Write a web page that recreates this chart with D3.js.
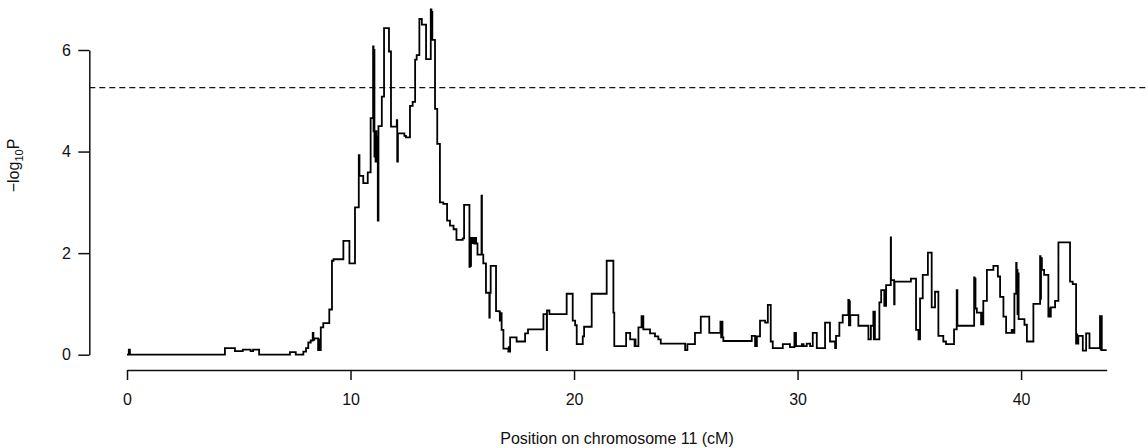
<!DOCTYPE html>
<html>
<head>
<meta charset="utf-8">
<script src="https://cdn.jsdelivr.net/npm/d3@7"></script>
<style>
  html, body { margin: 0; padding: 0; background: #fff; }
  svg { display: block; }
  text { font-family: "Liberation Sans", Arial, sans-serif; fill: #111; }
</style>
</head>
<body>
<svg id="chart" width="1148" height="448"></svg>
<script>
// Position on chromosome 11 (cM) and -log10 P (step function)
const positions = [
  0, 0.08, 0.13, 4.38, 4.83, 5.18, 5.53, 5.64, 5.91, 7.29, 7.55, 7.89, 8.01, 8.11, 8.22, 8.31, 8.34, 8.38,
  8.55, 8.58, 8.61, 8.67, 8.78, 9.05, 9.17, 9.24, 9.68, 9.95, 10.20, 10.37, 10.40, 10.57, 10.77, 10.90,
  11.01, 11.03, 11.05, 11.07, 11.10, 11.12, 11.14, 11.16, 11.19, 11.22, 11.25, 11.40, 11.50, 11.72, 11.81,
  12.07, 12.09, 12.12, 12.41, 12.48, 12.66, 12.78, 12.89, 12.96, 13.08, 13.19, 13.38, 13.59, 13.62, 13.64,
  13.66, 13.78, 13.88, 14.00, 14.15, 14.32, 14.45, 14.61, 14.74, 15.02, 15.08, 15.32, 15.34, 15.37, 15.39,
  15.44, 15.48, 15.53, 15.57, 15.62, 15.68, 15.86, 15.88, 15.94, 16.06, 16.21, 16.23, 16.27, 16.51, 16.66,
  16.68, 16.70, 16.76, 16.84, 17.06, 17.08, 17.10, 17.14, 17.43, 17.81, 17.94, 18.63, 18.78, 18.79, 18.90,
  19.67, 19.94, 20.05, 20.12, 20.39, 20.45, 20.79, 21.46, 21.76, 21.80, 22.33, 22.51, 22.71, 22.73, 22.75,
  22.88, 23.02, 23.04, 23.07, 23.10, 23.40, 23.62, 23.77, 23.88, 24.97, 25.07, 25.41, 25.67, 26.05, 26.55,
  26.58, 26.60, 26.64, 26.68, 27.95, 28.10, 28.18, 28.32, 28.55, 28.67, 28.80, 28.89, 29.34, 29.66, 29.86,
  29.88, 29.91, 29.93, 30.19, 30.27, 30.41, 30.56, 30.68, 30.86, 31.23, 31.45, 31.68, 31.72, 31.87, 32.02,
  32.27, 32.30, 32.32, 32.34, 32.36, 32.72, 33.17, 33.28, 33.39, 33.41, 33.43, 33.46, 33.66, 33.74, 33.88,
  33.90, 33.92, 33.96, 34.17, 34.18, 34.32, 34.34, 35.07, 35.30, 35.41, 35.48, 35.60, 35.83, 36.00, 36.15,
  36.30, 36.52, 36.64, 37.00, 37.12, 37.15, 37.90, 37.92, 37.94, 37.96, 38.02, 38.21, 38.23, 38.25, 38.31,
  38.47, 38.76, 38.96, 39.06, 39.21, 39.33, 39.58, 39.61, 39.63, 39.65, 39.70, 39.78, 39.80, 39.82, 39.84,
  39.87, 39.89, 40.15, 40.26, 40.55, 40.85, 40.87, 40.89, 40.93, 41.03, 41.22, 41.24, 41.27, 41.33, 41.52,
  41.67, 42.19, 42.31, 42.46, 42.48, 42.51, 42.56, 42.76, 42.91, 43.06, 43.53, 43.56, 43.58, 43.61, 43.83
];
const logP = [
  0, 0.1, 0, 0.13, 0.07, 0.1, 0.07, 0.1, 0, 0.05, 0, 0.06, 0.13, 0.24, 0.28, 0.43, 0.29, 0.32,
  0.09, 0.3, 0.09, 0.54, 0.62, 0.89, 1.85, 1.88, 2.24, 1.8, 2.9, 3.93, 3.52, 3.38, 3.59, 4.66,
  6.07, 4.4, 6.0, 3.9, 4.4, 3.8, 4.4, 3.85, 4.3, 2.64, 4.5, 5.08, 6.43, 5.97, 4.49,
  4.62, 3.8, 4.36, 4.31, 4.28, 4.9, 4.98, 5.81, 5.9, 6.61, 6.5, 5.82, 6.8, 6.2, 6.75,
  6.2, 4.84, 4.15, 3.0, 2.97, 2.64, 2.54, 2.47, 2.26, 2.29, 2.95, 1.73, 2.29, 1.75, 2.3,
  2.2, 2.3, 2.19, 2.3, 2.19, 1.97, 3.13, 1.97, 1.8, 1.22, 0.73, 1.22, 1.75, 0.86, 0.85,
  0.67, 0.82, 0.49, 0.12, 0.06, 0.15, 0.06, 0.34, 0.26, 0.42, 0.5, 0.8, 0.09, 0.87, 0.8,
  1.2, 0.67, 0.58, 0.21, 0.36, 0.55, 1.2, 1.85, 0.83, 0.17, 0.43, 0.3, 0.17, 0.3, 0.17,
  0.54, 0.76, 0.54, 0.76, 0.5, 0.42, 0.36, 0.3, 0.22, 0.09, 0.21, 0.43, 0.75, 0.43, 0.65,
  0.34, 0.65, 0.34, 0.27, 0.37, 0.17, 0.36, 0.67, 0.63, 0.98, 0.26, 0.13, 0.21, 0.15, 0.43,
  0.17, 0.43, 0.17, 0.21, 0.17, 0.22, 0.17, 0.43, 0.13, 0.63, 0.26, 0.13, 0.37, 0.63, 0.78,
  1.08, 0.58, 1.05, 0.58, 0.78, 0.57, 0.3, 0.57, 0.85, 0.3, 0.85, 0.3, 1.03, 1.27, 0.96,
  1.27, 0.96, 1.37, 2.31, 1.47, 0.99, 1.44, 1.5, 0.49, 0.3, 1.11, 1.57, 2.01, 0.93, 1.24,
  0.37, 0.26, 0.21, 0.5, 1.27, 0.57, 1.52, 0.91, 1.5, 0.91, 0.83, 0.6, 0.83, 0.6, 1.06,
  1.67, 1.75, 1.54, 1.14, 0.75, 0.43, 0.49, 0.43, 0.49, 0.43, 1.2, 1.81, 1.3, 1.67, 0.8,
  1.6, 0.7, 0.59, 0.26, 1.0, 1.94, 1.1, 1.9, 1.67, 1.57, 0.75, 0.91, 0.75, 0.93, 1.06,
  2.21, 1.44, 1.39, 0.22, 0.4, 0.22, 0.37, 0.08, 0.42, 0.13, 0.76, 0.1, 0.76, 0.09, 0.09
];
const xTicks = [0, 10, 20, 30, 40];
const yTicks = [0, 2, 4, 6];
const threshold = 5.26;
const xLabel = "Position on chromosome 11 (cM)";

const data = positions.map((p, i) => ({ p: p, v: logP[i] }));

const svg = d3.select("#chart");
const x = d3.scaleLinear().domain([0, d3.max(positions)]).range([127, 1106.7]);
const y = d3.scaleLinear().domain([0, 6]).range([354.7, 50]);

// threshold line
svg.append("line")
  .attr("x1", 89.3).attr("x2", 1148)
  .attr("y1", y(threshold)).attr("y2", y(threshold))
  .attr("stroke", "#111").attr("stroke-width", 1.4)
  .attr("stroke-dasharray", "6,4");

// step line
const line = d3.line().x(d => x(d.p)).y(d => y(d.v)).curve(d3.curveStepAfter);
svg.append("path")
  .datum(data)
  .attr("fill", "none")
  .attr("stroke", "#000")
  .attr("stroke-width", 1.8)
  .attr("d", line);

// x axis
const gx = svg.append("g")
  .attr("transform", "translate(0,370)")
  .call(d3.axisBottom(x).tickValues(xTicks).tickSize(10).tickSizeOuter(0).tickPadding(13.6).tickFormat(d3.format("d")));
// y axis
const gy = svg.append("g")
  .attr("transform", "translate(89.3,0)")
  .call(d3.axisLeft(y).tickValues(yTicks).tickSize(11).tickSizeOuter(0).tickPadding(7.3).tickFormat(d3.format("d")));

[gx, gy].forEach(g => {
  g.selectAll("path, line").attr("stroke", "#111").attr("stroke-width", 1.5);
  g.selectAll("text").attr("font-size", 16).attr("font-family", "Liberation Sans, Arial, sans-serif").attr("fill", "#111");
});

// axis titles
svg.append("text")
  .attr("x", 617).attr("y", 443.5)
  .attr("text-anchor", "middle")
  .attr("font-size", 16)
  .text(xLabel);

const yl = svg.append("text")
  .attr("transform", "translate(19,165.5) rotate(-90)")
  .attr("text-anchor", "middle")
  .attr("font-size", 16);
yl.append("tspan").text("\u2212log");
yl.append("tspan").attr("font-size", 11).attr("dy", 4).text("10");
yl.append("tspan").attr("dy", -4).text("P");
</script>
</body>
</html>
